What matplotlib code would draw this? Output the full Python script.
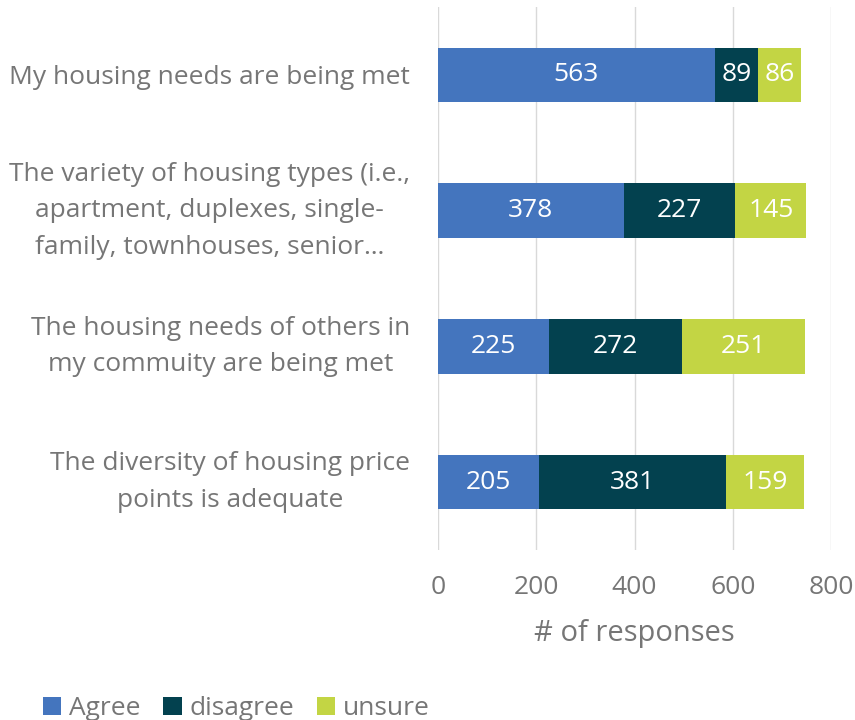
import matplotlib.pyplot as plt
import numpy as np

# Daten
categories = [
    "My housing needs are being met",
    "The variety of housing types (i.e.,\napartment, duplexes, single-\nfamily, townhouses, senior\u2026",
    "The housing needs of others in\nmy commuity are being met",
    "The diversity of housing price\npoints is adequate",
]
agree = [563, 378, 225, 205]
disagree = [89, 227, 272, 381]
unsure = [86, 145, 251, 159]
series_names = ["Agree", "disagree", "unsure"]
colors = ["#4475BE", "#03414F", "#C3D544"]
xticks = [0, 200, 400, 600, 800]

plt.rcParams['font.family'] = ['Open Sans', 'DejaVu Sans']
grau = '#767676'

fig = plt.figure(figsize=(8.55, 7.2), dpi=100)
ax = fig.add_axes([438 / 855, 1 - 550 / 720, (831 - 438) / 855, 543 / 720])

y = np.arange(len(categories))
left = np.zeros(len(categories))
for werte, name, farbe in zip([agree, disagree, unsure], series_names, colors):
    bars = ax.barh(y, werte, left=left, height=0.4, color=farbe, label=name, zorder=3)
    for b, v in zip(bars, werte):
        ax.text(b.get_x() + b.get_width() / 2, b.get_y() + b.get_height() / 2, str(v),
                ha='center', va='center', color='white', fontsize=19, zorder=4)
    left += np.array(werte)

ax.set_ylim(3.5, -0.5)
ax.set_xlim(0, 800)
ax.set_xticks(xticks)
ax.set_yticks(y)
ax.set_yticklabels(categories, fontsize=19, color=grau, linespacing=1.6)
for lab in ax.get_yticklabels():
    lab.set_multialignment('center')
    if '\n' in lab.get_text():
        lab.set_va('center')
ax.tick_params(axis='y', length=0, pad=20)
ax.tick_params(axis='x', length=0, pad=18, labelsize=19, labelcolor=grau)
ax.set_xlabel('# of responses', fontsize=21, color=grau, labelpad=14)
ax.grid(axis='x', color='#D9D9D9', linewidth=1, zorder=0)
for s in ax.spines.values():
    s.set_visible(False)

fig.legend(loc='lower left', bbox_to_anchor=(27 / 855, -0.024), ncol=3, frameon=False,
           fontsize=19, labelcolor=grau, handlelength=0.7, handleheight=0.7,
           handletextpad=0.3, columnspacing=0.85, borderaxespad=0.2)

fig.savefig('out.png', dpi=100)
